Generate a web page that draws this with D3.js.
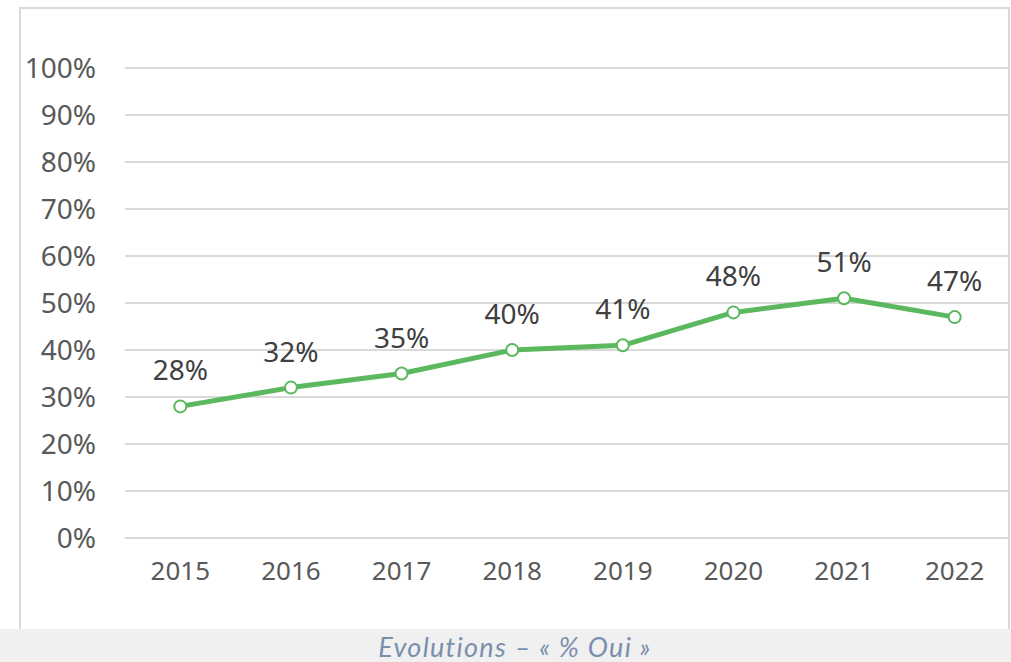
<!DOCTYPE html>
<html>
<head>
<meta charset="utf-8">
<script src="https://cdn.jsdelivr.net/npm/d3@7"></script>
<style>
  body { margin: 0; background: #fff; }
  svg { display: block; }
</style>
</head>
<body>
<svg id="chart" width="1011" height="662"></svg>
<script>
var years = ["2015", "2016", "2017", "2018", "2019", "2020", "2021", "2022"];
var oui = [28, 32, 35, 40, 41, 48, 51, 47];
var yTicks = [0, 10, 20, 30, 40, 50, 60, 70, 80, 90, 100];
var caption = "Evolutions – « % Oui »";

var svg = d3.select("#chart");
var green = "#5cb85f";

// frame + caption band
svg.append("rect")
	.attr("x", 0).attr("y", 629).attr("width", 1011).attr("height", 33)
	.attr("fill", "#f0f0f0");
svg.append("path")
	.attr("d", "M20,629V8H1009V629")
	.attr("fill", "none")
	.attr("stroke", "#d9d9d9")
	.attr("stroke-width", 2);

var x = d3.scaleBand().domain(years).range([125, 1010]);
var y = d3.scaleLinear().domain([0, 100]).range([538, 68]);

// grid
svg.append("g").selectAll("line")
	.data(yTicks)
	.join("line")
	.attr("x1", 125).attr("x2", 1008)
	.attr("y1", function(d) { return y(d); })
	.attr("y2", function(d) { return y(d); })
	.attr("stroke", "#d9d9d9")
	.attr("stroke-width", 2);

var yAxis = svg.append("g")
	.attr("transform", "translate(96,0)")
	.call(d3.axisLeft(y).tickValues(yTicks).tickSize(0).tickPadding(0)
		.tickFormat(function(d) { return d + "%"; }));
yAxis.select(".domain").remove();
yAxis.selectAll("text")
	.attr("font-family", "'Noto Sans', sans-serif")
	.attr("font-size", 28)
	.attr("fill", "#595959")
	.attr("dy", "0.35em");

var xAxis = svg.append("g")
	.attr("transform", "translate(0,557)")
	.call(d3.axisBottom(x).tickSize(0).tickPadding(0));
xAxis.select(".domain").remove();
xAxis.selectAll("text")
	.attr("font-family", "'Noto Sans', sans-serif")
	.attr("font-size", 26)
	.attr("fill", "#595959")
	.attr("dy", "0.9em");

var cx = function(d, i) { return x(years[i]) + x.bandwidth() / 2; };

svg.append("path")
	.datum(oui)
	.attr("fill", "none")
	.attr("stroke", green)
	.attr("stroke-width", 5)
	.attr("stroke-linejoin", "round")
	.attr("d", d3.line().x(cx).y(function(d) { return y(d); }));

svg.append("g").selectAll("circle")
	.data(oui)
	.join("circle")
	.attr("cx", cx)
	.attr("cy", function(d) { return y(d); })
	.attr("r", 6)
	.attr("fill", "#fff")
	.attr("stroke", green)
	.attr("stroke-width", 2);

svg.append("g").selectAll("text")
	.data(oui)
	.join("text")
	.attr("x", cx)
	.attr("y", function(d) { return y(d) - 26; })
	.attr("text-anchor", "middle")
	.attr("font-family", "'Noto Sans', sans-serif")
	.attr("font-size", 28)
	.attr("fill", "#404040")
	.text(function(d) { return d + "%"; });

svg.append("text")
	.attr("x", 515).attr("y", 657)
	.attr("text-anchor", "middle")
	.attr("font-family", "Lato, sans-serif")
	.attr("font-style", "italic")
	.attr("font-size", 27)
	.attr("letter-spacing", 1.3)
	.attr("fill", "#7a8fae")
	.text(caption);
</script>
</body>
</html>
